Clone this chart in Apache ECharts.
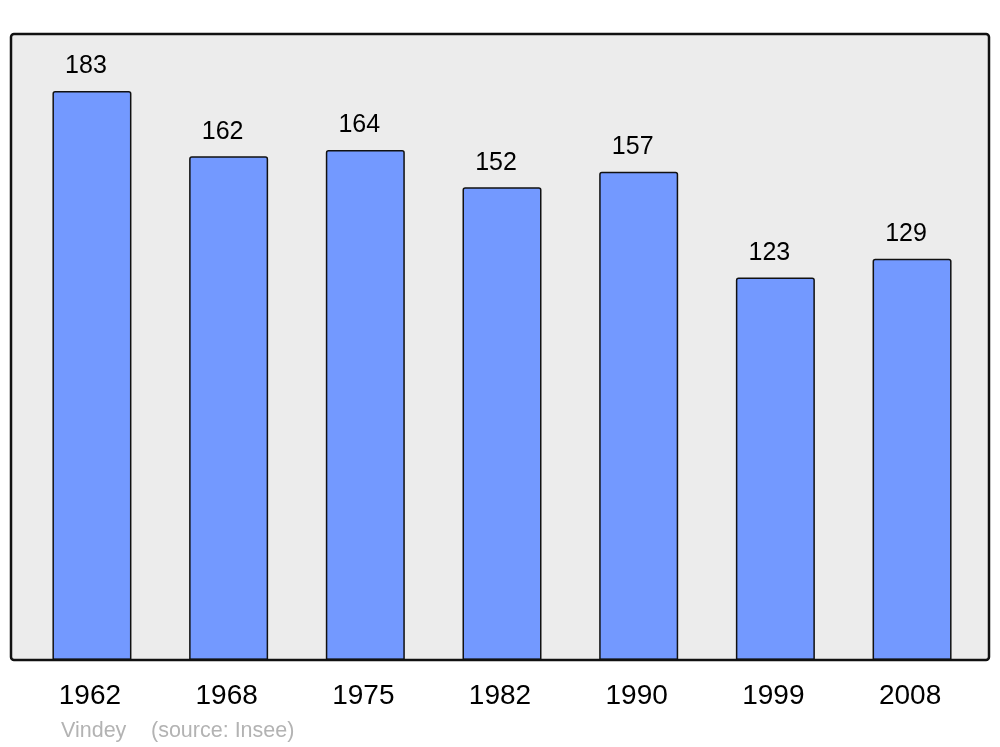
<!DOCTYPE html>
<html>
<head>
<meta charset="utf-8">
<script src="https://cdn.jsdelivr.net/npm/echarts@6/dist/echarts.min.js"></script>
<style>html,body{margin:0;padding:0;background:#fff}#c{width:1000px;height:747px}</style>
</head>
<body>
<div id="c"></div>
<script>
const years = ['1962', '1968', '1975', '1982', '1990', '1999', '2008'];
const population = [183, 162, 164, 152, 157, 123, 129];
const authorText = 'Vindey';
const sourceText = '(source: Insee)';

const chart = echarts.init(document.getElementById('c'), null, {renderer: 'canvas'});
chart.setOption({
  animation: false,
  backgroundColor: '#ffffff',
  textStyle: {fontFamily: 'Liberation Sans, Arial, sans-serif'},
  grid: {left: 23.6, right: 19.6, top: 34, bottom: 87},
  xAxis: {
    type: 'category',
    data: years,
    axisLine: {show: false},
    axisTick: {show: false},
    axisLabel: {color: '#000', fontSize: 28, margin: 22, padding: [0, 4, 0, 0], fontFamily: 'Liberation Sans, Arial, sans-serif'}
  },
  yAxis: {
    type: 'value',
    min: 0,
    max: 201.3,
    show: false,
    splitLine: {show: false}
  },
  graphic: [
    {type: 'rect', z: -10, shape: {x: 11, y: 34, width: 978, height: 626, r: 3}, style: {fill: '#ececec', stroke: null}},
    {type: 'rect', z: 100, shape: {x: 11, y: 34, width: 978, height: 626, r: 3}, style: {fill: null, stroke: '#111', lineWidth: 2.5}},
    {type: 'text', left: 61, top: 720, style: {text: authorText, fill: '#b3b3b3', fontSize: 21.5, fontFamily: 'Liberation Sans, Arial, sans-serif'}},
    {type: 'text', left: 151, top: 720, style: {text: sourceText, fill: '#b3b3b3', fontSize: 21.5, fontFamily: 'Liberation Sans, Arial, sans-serif'}}
  ],
  series: [{
    type: 'bar',
    data: population,
    barWidth: 79,
    itemStyle: {color: '#7399ff', borderColor: '#111', borderWidth: 1.5, borderRadius: [2, 2, 0, 0]},
    label: {show: true, position: 'top', distance: 12, offset: [-6, 0], color: '#000', fontSize: 25, fontFamily: 'Liberation Sans, Arial, sans-serif'}
  }]
});
</script>
</body>
</html>
